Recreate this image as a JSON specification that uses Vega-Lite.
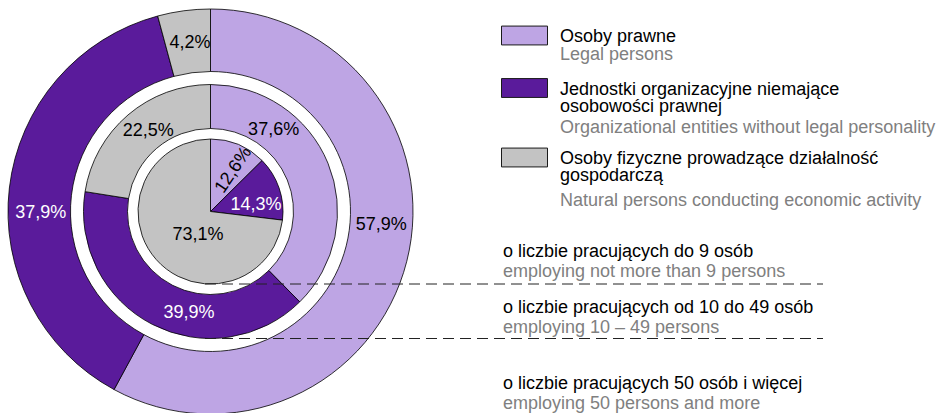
{
  "$schema": "https://vega.github.io/schema/vega-lite/v6.json",
  "width": 421,
  "height": 423,
  "autosize": "none",
  "padding": {"left": 0, "top": 0, "right": 530, "bottom": -10},
  "background": "white",
  "config": {"view": {"stroke": null}, "font": "Liberation Sans"},
  "data": {"values": [
    {"ring": "o liczbie pracujących do 9 osób", "ring_en": "employing not more than 9 persons", "category": "Osoby prawne", "category_en": "Legal persons", "order": 1, "value": 12.6, "label": "12,6%"},
    {"ring": "o liczbie pracujących do 9 osób", "ring_en": "employing not more than 9 persons", "category": "Jednostki organizacyjne niemające osobowości prawnej", "category_en": "Organizational entities without legal personality", "order": 2, "value": 14.3, "label": "14,3%"},
    {"ring": "o liczbie pracujących do 9 osób", "ring_en": "employing not more than 9 persons", "category": "Osoby fizyczne prowadzące działalność gospodarczą", "category_en": "Natural persons conducting economic activity", "order": 3, "value": 73.1, "label": "73,1%"},
    {"ring": "o liczbie pracujących od 10 do 49 osób", "ring_en": "employing 10 – 49 persons", "category": "Osoby prawne", "category_en": "Legal persons", "order": 1, "value": 37.6, "label": "37,6%"},
    {"ring": "o liczbie pracujących od 10 do 49 osób", "ring_en": "employing 10 – 49 persons", "category": "Jednostki organizacyjne niemające osobowości prawnej", "category_en": "Organizational entities without legal personality", "order": 2, "value": 39.9, "label": "39,9%"},
    {"ring": "o liczbie pracujących od 10 do 49 osób", "ring_en": "employing 10 – 49 persons", "category": "Osoby fizyczne prowadzące działalność gospodarczą", "category_en": "Natural persons conducting economic activity", "order": 3, "value": 22.5, "label": "22,5%"},
    {"ring": "o liczbie pracujących 50 osób i więcej", "ring_en": "employing 50 persons and more", "category": "Osoby prawne", "category_en": "Legal persons", "order": 1, "value": 57.9, "label": "57,9%"},
    {"ring": "o liczbie pracujących 50 osób i więcej", "ring_en": "employing 50 persons and more", "category": "Jednostki organizacyjne niemające osobowości prawnej", "category_en": "Organizational entities without legal personality", "order": 2, "value": 37.9, "label": "37,9%"},
    {"ring": "o liczbie pracujących 50 osób i więcej", "ring_en": "employing 50 persons and more", "category": "Osoby fizyczne prowadzące działalność gospodarczą", "category_en": "Natural persons conducting economic activity", "order": 3, "value": 4.2, "label": "4,2%"}
  ]},
  "layer": [
    {
      "transform": [{"filter": {"field": "ring", "equal": "o liczbie pracujących 50 osób i więcej"}}],
      "mark": {"type": "arc", "radius": 202.5, "radius2": 140, "stroke": "black", "strokeWidth": 0.8},
      "encoding": {
        "theta": {"field": "value", "type": "quantitative", "stack": true, "scale": {"domain": [0, 100]}},
        "order": {"field": "order"},
        "color": {
          "field": "category", "type": "nominal",
          "scale": {"domain": ["Osoby prawne", "Jednostki organizacyjne niemające osobowości prawnej", "Osoby fizyczne prowadzące działalność gospodarczą"], "range": ["#BEA5E4", "#5A1B9B", "#C3C3C3"]},
          "legend": {
            "orient": "none", "legendX": 501, "legendY": 12, "title": null, "padding": 0,
            "symbolType": "M-1,-0.41H1V0.41H-1Z", "symbolSize": 2116, "symbolStrokeColor": "#1a1a1a", "symbolStrokeWidth": 1,
            "labelFont": "Liberation Sans", "labelFontSize": 18, "labelColor": "#000000", "labelOffset": 12, "labelLimit": 600, "rowPadding": 1.5,
            "labelExpr": "datum.label == 'Osoby prawne' ? [datum.label, '\u00a0'] : datum.label == 'Jednostki organizacyjne niemające osobowości prawnej' ? ['Jednostki organizacyjne niemające', 'osobowości prawnej', '\u00a0'] : ['Osoby fizyczne prowadzące działalność', 'gospodarczą', '\u00a0']",
            "encode": {"labels": {"update": {"lineHeight": {"value": 17}, "dy": {"value": 1.5}}}}
          }
        },
        "stroke": {
          "field": "category_en", "type": "nominal",
          "scale": {"domain": ["Legal persons", "Organizational entities without legal personality", "Natural persons conducting economic activity"], "range": ["black", "black", "black"]},
          "legend": {
            "orient": "none", "legendX": 501, "legendY": 11, "title": null, "padding": 0,
            "symbolType": "M-1,-0.41H1V0.41H-1Z", "symbolSize": 2116, "symbolStrokeWidth": 1, "symbolOpacity": 0,
            "labelFont": "Liberation Sans", "labelFontSize": 18, "labelColor": "#808080", "labelOffset": 12, "labelLimit": 600, "rowPadding": -3.5,
            "labelExpr": "datum.label == 'Legal persons' ? ['\u00a0', datum.label] : ['\u00a0', '\u2800', datum.label]"
          }
        },
        "opacity": {
          "field": "ring", "type": "nominal",
          "scale": {"type": "ordinal", "domain": ["o liczbie pracujących do 9 osób", "o liczbie pracujących od 10 do 49 osób", "o liczbie pracujących 50 osób i więcej"], "range": [1, 1, 1]},
          "legend": {
            "orient": "none", "legendX": 485, "legendY": 243, "title": null, "padding": 0,
            "symbolSize": 0, "symbolStrokeWidth": 0, "symbolOpacity": 0,
            "labelFont": "Liberation Sans", "labelFontSize": 18, "labelColor": "#000000", "labelOffset": 0, "labelLimit": 600, "rowPadding": 18,
            "labelExpr": "datum.label == 'o liczbie pracujących od 10 do 49 osób' ? [datum.label, '\u00a0', '\u00a0'] : [datum.label, '\u00a0']",
            "encode": {"labels": {"update": {"lineHeight": {"value": 20.5}}}}
          }
        },
        "strokeWidth": {
          "field": "ring_en", "type": "nominal",
          "scale": {"type": "ordinal", "domain": ["employing not more than 9 persons", "employing 10 – 49 persons", "employing 50 persons and more"], "range": [0.8, 0.8, 0.8]},
          "legend": {
            "orient": "none", "legendX": 485, "legendY": 243, "title": null, "padding": 0,
            "symbolSize": 0, "symbolStrokeWidth": 0, "symbolOpacity": 0,
            "labelFont": "Liberation Sans", "labelFontSize": 18, "labelColor": "#808080", "labelOffset": 0, "labelLimit": 600, "rowPadding": 18,
            "labelExpr": "datum.label == 'employing 10 – 49 persons' ? ['\u00a0', datum.label, '\u00a0'] : ['\u00a0', datum.label]",
            "encode": {"labels": {"update": {"lineHeight": {"value": 20.5}}}}
          }
        }
      }
    },
    {
      "transform": [{"filter": {"field": "ring", "equal": "o liczbie pracujących od 10 do 49 osób"}}],
      "mark": {"type": "arc", "radius": 127, "radius2": 83, "stroke": "black", "strokeWidth": 0.8},
      "encoding": {
        "theta": {"field": "value", "type": "quantitative", "stack": true, "scale": {"domain": [0, 100]}},
        "order": {"field": "order"},
        "color": {"field": "category", "type": "nominal", "legend": null}
      }
    },
    {
      "transform": [{"filter": {"field": "ring", "equal": "o liczbie pracujących do 9 osób"}}],
      "mark": {"type": "arc", "radius": 72.5, "radius2": 0, "stroke": "black", "strokeWidth": 0.8},
      "encoding": {
        "theta": {"field": "value", "type": "quantitative", "stack": true, "scale": {"domain": [0, 100]}},
        "order": {"field": "order"},
        "color": {"field": "category", "type": "nominal", "legend": null}
      }
    },
    {
      "data": {"values": [{"below": "o liczbie pracujących do 9 osób"}, {"below": "o liczbie pracujących od 10 do 49 osób"}]},
      "mark": {"type": "rule", "stroke": "#222222", "strokeWidth": 1, "strokeDash": [11, 6]},
      "encoding": {
        "x": {"value": 205},
        "x2": {"value": 823},
        "y": {"field": "below", "type": "nominal", "scale": {"type": "point", "domain": ["o liczbie pracujących do 9 osób", "o liczbie pracujących od 10 do 49 osób"], "range": [284, 338.5], "padding": 0}, "axis": null}
      }
    },
    {
      "transform": [{"filter": {"field": "ring", "equal": "o liczbie pracujących 50 osób i więcej"}}],
      "mark": {"type": "text", "radius": 171, "dx": 5, "dy": -29, "fill": "black", "fontSize": 18, "font": "Liberation Sans"},
      "encoding": {
        "theta": {"field": "value", "type": "quantitative", "stack": true, "scale": {"domain": [0, 100]}},
        "order": {"field": "order"}, "detail": {"field": "category"},
        "text": {"condition": {"test": "datum.order == 1", "field": "label"}, "value": ""}
      }
    },
    {
      "transform": [{"filter": {"field": "ring", "equal": "o liczbie pracujących 50 osób i więcej"}}],
      "mark": {"type": "text", "radius": 171, "dx": 0, "dy": 21, "fill": "white", "fontSize": 18, "font": "Liberation Sans"},
      "encoding": {
        "theta": {"field": "value", "type": "quantitative", "stack": true, "scale": {"domain": [0, 100]}},
        "order": {"field": "order"}, "detail": {"field": "category"},
        "text": {"condition": {"test": "datum.order == 2", "field": "label"}, "value": ""}
      }
    },
    {
      "transform": [{"filter": {"field": "ring", "equal": "o liczbie pracujących 50 osób i więcej"}}],
      "mark": {"type": "text", "radius": 171, "dx": 2, "dy": 1.5, "fill": "black", "fontSize": 18, "font": "Liberation Sans"},
      "encoding": {
        "theta": {"field": "value", "type": "quantitative", "stack": true, "scale": {"domain": [0, 100]}},
        "order": {"field": "order"}, "detail": {"field": "category"},
        "text": {"condition": {"test": "datum.order == 3", "field": "label"}, "value": ""}
      }
    },
    {
      "transform": [{"filter": {"field": "ring", "equal": "o liczbie pracujących od 10 do 49 osób"}}],
      "mark": {"type": "text", "radius": 105, "dx": -34, "dy": -41.5, "fill": "black", "fontSize": 18, "font": "Liberation Sans"},
      "encoding": {
        "theta": {"field": "value", "type": "quantitative", "stack": true, "scale": {"domain": [0, 100]}},
        "order": {"field": "order"}, "detail": {"field": "category"},
        "text": {"condition": {"test": "datum.order == 1", "field": "label"}, "value": ""}
      }
    },
    {
      "transform": [{"filter": {"field": "ring", "equal": "o liczbie pracujących od 10 do 49 osób"}}],
      "mark": {"type": "text", "radius": 105, "dx": 26.5, "dy": 8.5, "fill": "white", "fontSize": 18, "font": "Liberation Sans"},
      "encoding": {
        "theta": {"field": "value", "type": "quantitative", "stack": true, "scale": {"domain": [0, 100]}},
        "order": {"field": "order"}, "detail": {"field": "category"},
        "text": {"condition": {"test": "datum.order == 2", "field": "label"}, "value": ""}
      }
    },
    {
      "transform": [{"filter": {"field": "ring", "equal": "o liczbie pracujących od 10 do 49 osób"}}],
      "mark": {"type": "text", "radius": 105, "dx": 6, "dy": -0.5, "fill": "black", "fontSize": 18, "font": "Liberation Sans"},
      "encoding": {
        "theta": {"field": "value", "type": "quantitative", "stack": true, "scale": {"domain": [0, 100]}},
        "order": {"field": "order"}, "detail": {"field": "category"},
        "text": {"condition": {"test": "datum.order == 3", "field": "label"}, "value": ""}
      }
    },
    {
      "transform": [{"filter": {"field": "ring", "equal": "o liczbie pracujących do 9 osób"}}],
      "mark": {"type": "text", "radius": 46, "dx": 2, "dy": 5, "angle": 304, "fill": "black", "fontSize": 18, "font": "Liberation Sans"},
      "encoding": {
        "theta": {"field": "value", "type": "quantitative", "stack": true, "scale": {"domain": [0, 100]}},
        "order": {"field": "order"}, "detail": {"field": "category"},
        "text": {"condition": {"test": "datum.order == 1", "field": "label"}, "value": ""}
      }
    },
    {
      "transform": [{"filter": {"field": "ring", "equal": "o liczbie pracujących do 9 osób"}}],
      "mark": {"type": "text", "radius": 46, "dx": 2, "dy": 8, "fill": "white", "fontSize": 18, "font": "Liberation Sans"},
      "encoding": {
        "theta": {"field": "value", "type": "quantitative", "stack": true, "scale": {"domain": [0, 100]}},
        "order": {"field": "order"}, "detail": {"field": "category"},
        "text": {"condition": {"test": "datum.order == 2", "field": "label"}, "value": ""}
      }
    },
    {
      "transform": [{"filter": {"field": "ring", "equal": "o liczbie pracujących do 9 osób"}}],
      "mark": {"type": "text", "radius": 46, "dx": 22, "dy": -7, "fill": "black", "fontSize": 18, "font": "Liberation Sans"},
      "encoding": {
        "theta": {"field": "value", "type": "quantitative", "stack": true, "scale": {"domain": [0, 100]}},
        "order": {"field": "order"}, "detail": {"field": "category"},
        "text": {"condition": {"test": "datum.order == 3", "field": "label"}, "value": ""}
      }
    }
  ]
}
